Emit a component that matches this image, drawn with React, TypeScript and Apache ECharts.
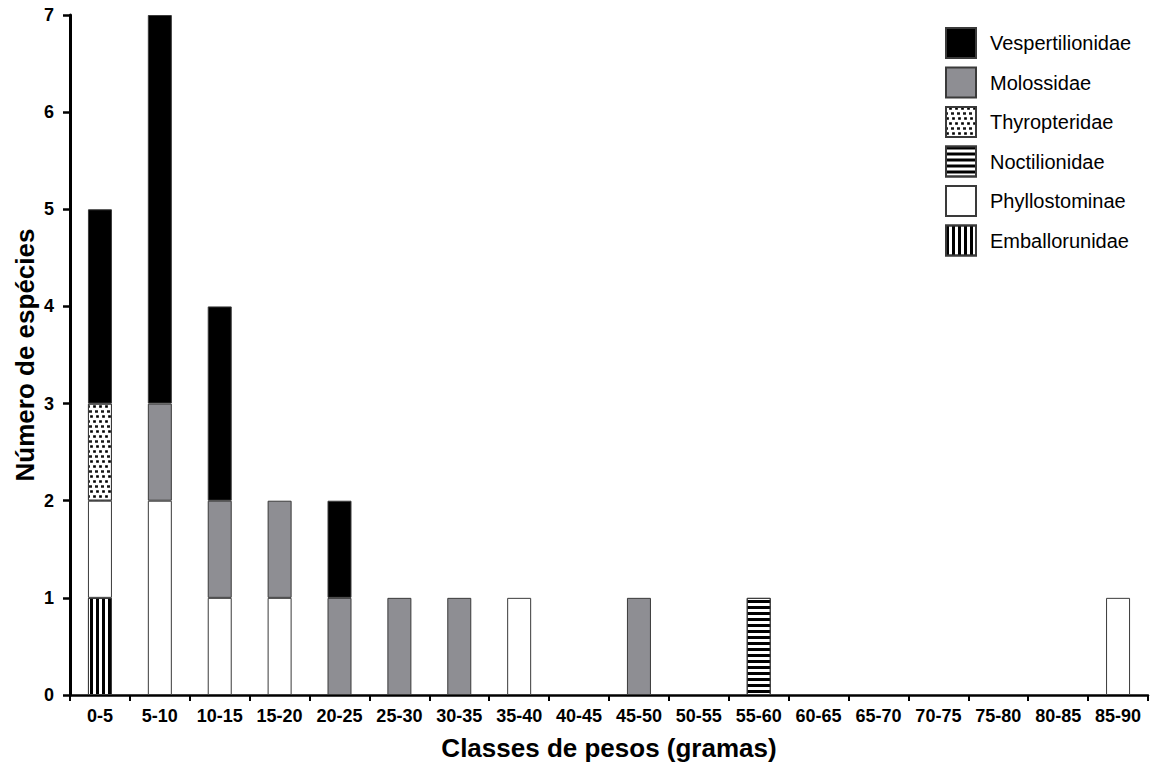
import React, { useEffect, useRef } from "react";
import * as echarts from "echarts";

const categories = ["0-5", "5-10", "10-15", "15-20", "20-25", "25-30", "30-35", "35-40", "40-45", "45-50", "50-55", "55-60", "60-65", "65-70", "70-75", "75-80", "80-85", "85-90"];
const emballorunidae = [1, 0, 0, 0, 0, 0, 0, 0, 0, 0, 0, 0, 0, 0, 0, 0, 0, 0];
const phyllostominae = [1, 2, 1, 1, 0, 0, 0, 1, 0, 0, 0, 0, 0, 0, 0, 0, 0, 1];
const noctilionidae = [0, 0, 0, 0, 0, 0, 0, 0, 0, 0, 0, 1, 0, 0, 0, 0, 0, 0];
const thyropteridae = [1, 0, 0, 0, 0, 0, 0, 0, 0, 0, 0, 0, 0, 0, 0, 0, 0, 0];
const molossidae = [0, 1, 1, 1, 1, 1, 1, 0, 0, 1, 0, 0, 0, 0, 0, 0, 0, 0];
const vespertilionidae = [2, 4, 2, 0, 1, 0, 0, 0, 0, 0, 0, 0, 0, 0, 0, 0, 0, 0];
const legendOrder = ["Vespertilionidae", "Molossidae", "Thyropteridae", "Noctilionidae", "Phyllostominae", "Emballorunidae"];
const yTicks = [0, 1, 2, 3, 4, 5, 6, 7];

const FONT = "Liberation Sans, Arial, sans-serif";

export default function App() {
  const ref = useRef<HTMLDivElement>(null);
  useEffect(() => {
    if (!ref.current) return;
    const chart = echarts.init(ref.current, null, { renderer: "svg" });
    const clean = (a: number[]) => a.map((v) => (v === 0 ? null : v));
    const border = { borderColor: "#3a3a3a", borderWidth: 1 };
    const mk = (name: string, data: number[], itemStyle: any) => ({
      name,
      type: "bar",
      stack: "total",
      barWidth: 24,
      data: clean(data),
      itemStyle: { ...border, ...itemStyle },
      emphasis: { disabled: true },
    });
    chart.setOption({
      animation: false,
      aria: { enabled: false },
      textStyle: { fontFamily: FONT },
      grid: { left: 70, right: 5, top: 15, bottom: 73, outerBoundsMode: "none", containLabel: false },
      legend: {
        data: legendOrder,
        orient: "vertical",
        left: 940,
        top: 22,
        itemWidth: 30,
        itemHeight: 30,
        itemGap: 7.5,
        icon: "rect",
        textStyle: { fontSize: 20, color: "#000", fontFamily: FONT, padding: [0, 0, 0, 9] },
        selectedMode: false,
      },
      xAxis: {
        type: "category",
        data: categories,
        name: "Classes de pesos (gramas)",
        nameLocation: "middle",
        nameGap: 40,
        nameMoveOverlap: false,
        nameTextStyle: { fontSize: 26, fontWeight: "bold", color: "#000", fontFamily: FONT },
        axisLine: { lineStyle: { color: "#000", width: 2.5 } },
        axisTick: { show: true, length: 6, lineStyle: { color: "#000", width: 2 } },
        axisLabel: { fontSize: 18, fontWeight: "bold", color: "#000", margin: 12, interval: 0, fontFamily: FONT },
      },
      yAxis: {
        type: "value",
        min: yTicks[0],
        max: yTicks[yTicks.length - 1],
        interval: 1,
        name: "Número de espécies",
        nameLocation: "middle",
        nameGap: 32,
        nameMoveOverlap: false,
        nameTextStyle: { fontSize: 26, fontWeight: "bold", color: "#000", fontFamily: FONT },
        axisLine: { show: true, lineStyle: { color: "#000", width: 3 } },
        axisTick: { show: true, length: 7, lineStyle: { color: "#000", width: 2.5 } },
        axisLabel: { fontSize: 18, fontWeight: "bold", color: "#000", margin: 16, fontFamily: FONT },
        splitLine: { show: false },
      },
      series: [
        mk("Emballorunidae", emballorunidae, {
          color: "#fff",
          decal: { symbol: "rect", symbolSize: 1, color: "#000", dashArrayX: [2.5, 2.5], dashArrayY: [10, 0], rotation: 0 },
        }),
        mk("Phyllostominae", phyllostominae, { color: "#fff" }),
        mk("Noctilionidae", noctilionidae, {
          color: "#fff",
          decal: { symbol: "rect", symbolSize: 1, color: "#000", dashArrayX: [10, 0], dashArrayY: [2.5, 2.5], rotation: 0 },
        }),
        mk("Thyropteridae", thyropteridae, {
          color: "#fff",
          decal: {
            symbol: "rect",
            symbolSize: 0.9,
            color: "#000",
            dashArrayX: [[2.5, 3], [0, 3, 2.5, 0], [1.5, 3, 1, 0]],
            dashArrayY: [2.5, 1.5],
            rotation: 0,
          },
        }),
        mk("Molossidae", molossidae, { color: "#8e8e93" }),
        mk("Vespertilionidae", vespertilionidae, { color: "#000" }),
      ],
    });
    return () => chart.dispose();
  }, []);
  return <div ref={ref} style={{ width: 1153, height: 768, position: "absolute", left: 0, top: 0 }} />;
}
